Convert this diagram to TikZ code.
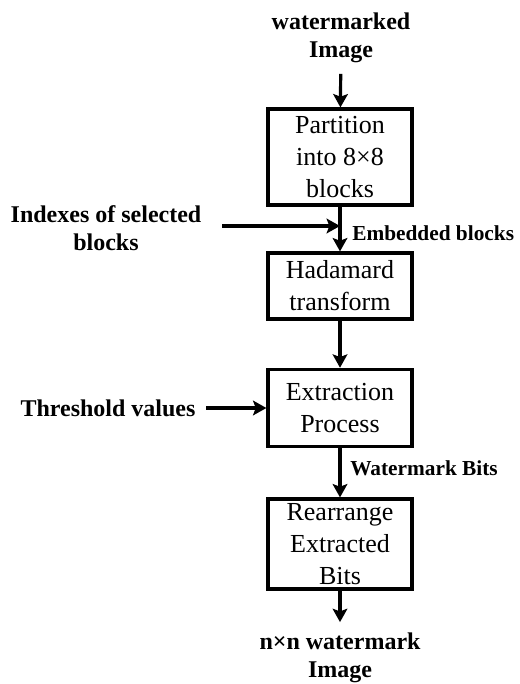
\documentclass[tikz,border=0pt]{standalone}
\usepackage{fontspec}
\setmainfont{Liberation Serif}
\usetikzlibrary{arrows.meta}

\begin{document}
\begin{tikzpicture}[x=0.75pt,y=0.75pt,yscale=-1,xscale=1,
  procbox/.style={draw,line width=2.4pt,minimum width=108pt,inner sep=0pt,align=center,font=\fontsize{19.5}{24}\selectfont},
  biglabel/.style={inner sep=0pt,align=center,font=\bfseries\fontsize{18}{21}\selectfont},
  smalllabel/.style={inner sep=0pt,anchor=west,font=\bfseries\fontsize{16}{19}\selectfont},
  flow/.style={line width=2.4pt,-{Stealth[length=10pt,width=11pt,inset=2pt]}}]
\useasboundingbox (0,0) rectangle (520,684);

%Shape: Boxes
\node [procbox,minimum height=72pt] (part) at (340,157) {Partition\\into 8×8\\blocks};
\node [procbox,minimum height=49.5pt] (hada) at (340,286) {Hadamard\\transform};
\node [procbox,minimum height=58pt] (extr) at (340,408) {Extraction\\Process};
\node [procbox,minimum height=67.5pt] (rear) at (340,544) {Rearrange\\Extracted\\Bits};

% Text Node
\node [biglabel] (wmin) at (341,38) {watermarked\\Image};
\node [biglabel] (idx) at (106,228) {Indexes of selected\\blocks};
\node [biglabel] (thr) at (108,408) {Threshold values};
\node [biglabel] (wmout) at (340,658) {n×n watermark\\Image};
\node [smalllabel] (emb) at (352,233) {Embedded blocks};
\node [smalllabel] (bits) at (350,468) {Watermark Bits};

%Straight Lines
\coordinate (join) at (340,226);
\coordinate (idxout) at (222,226);
\draw [flow,shorten <=8pt] (wmin) -- (part);
\draw [flow] (part) -- (hada);
\draw [flow] (idxout) -- (join);
\draw [flow] (hada) -- (extr);
\draw [flow,shorten <=8pt] (thr.east) -- (extr.west);
\draw [flow] (extr) -- (rear);
\draw [flow,shorten >=8pt] (rear) -- (wmout);

\end{tikzpicture}
\end{document}
